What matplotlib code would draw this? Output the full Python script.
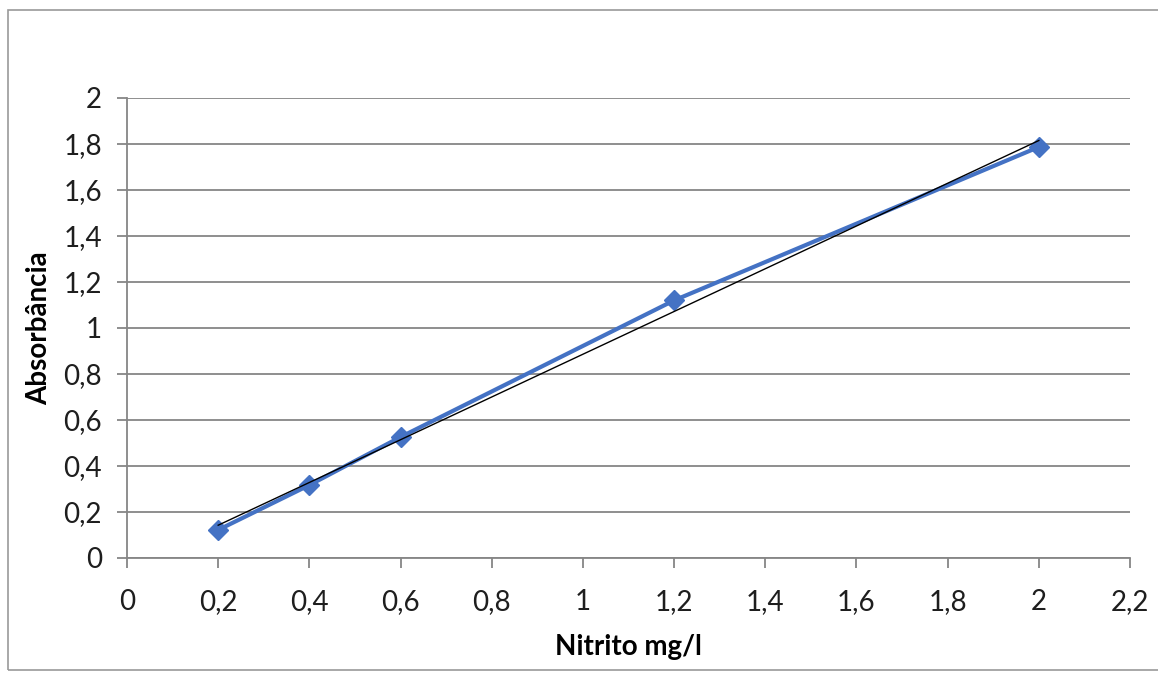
import numpy as np
import matplotlib.pyplot as plt
from matplotlib.patches import Rectangle

# data
nitrito = [0.2, 0.4, 0.6, 1.2, 2.0]
absorbancia = [0.122, 0.317, 0.526, 1.12, 1.787]

x_ticks = [0, 0.2, 0.4, 0.6, 0.8, 1.0, 1.2, 1.4, 1.6, 1.8, 2.0, 2.2]
y_ticks = [0, 0.2, 0.4, 0.6, 0.8, 1.0, 1.2, 1.4, 1.6, 1.8, 2.0]

BLUE = "#4472C4"
GRID = "#868686"


def fmt(v):
    s = f"{v:g}"
    return s.replace(".", ",")


plt.rcParams["font.family"] = ["Lato", "DejaVu Sans"]

fig = plt.figure(figsize=(11.58, 6.73), dpi=100)
ax = fig.add_axes([127 / 1158, 1 - 558 / 673, (1130 - 127) / 1158, (558 - 98) / 673])

# outer chart frame (Excel style)
fig.patches.append(Rectangle((8 / 1158, 3 / 673), 1.2, 1 - 13 / 673,
                             transform=fig.transFigure, fill=False,
                             edgecolor="#9a9a9a", linewidth=1.2))

# linear trendline
coef = np.polyfit(nitrito, absorbancia, 1)
x_fit = np.array([min(nitrito), max(nitrito)])
ax.plot(x_fit, np.polyval(coef, x_fit), color="black", linewidth=1.0, zorder=4)

ax.plot(nitrito, absorbancia, color=BLUE, linewidth=3.0, marker="D",
        markersize=10, markerfacecolor=BLUE, markeredgecolor=BLUE, zorder=3)

ax.set_xlim(0, 2.2)
ax.set_ylim(0, 2.0)
ax.set_xticks(x_ticks)
ax.set_yticks(y_ticks)
ax.set_xticklabels([fmt(v) for v in x_ticks])
ax.set_yticklabels([fmt(v) for v in y_ticks])

ax.grid(axis="y", color=GRID, linewidth=1.3)
ax.set_axisbelow(True)
for s in ["top", "right"]:
    ax.spines[s].set_visible(False)
ax.spines["left"].set_color(GRID)
ax.spines["bottom"].set_color(GRID)
ax.spines["left"].set_linewidth(1.3)
ax.spines["bottom"].set_linewidth(1.3)

ax.tick_params(axis="y", length=7, width=1.3, color=GRID, pad=11,
               labelsize=20, labelcolor="#1e1e1e")
ax.tick_params(axis="x", length=7, width=1.3, color=GRID, pad=15,
               labelsize=20, labelcolor="#1e1e1e")

ax.set_xlabel("Nitrito mg/l", fontsize=20, fontweight="bold", labelpad=14)
ax.set_ylabel("Absorbância", fontsize=20, fontweight="bold", labelpad=8)

fig.savefig("out.png", dpi=100)
